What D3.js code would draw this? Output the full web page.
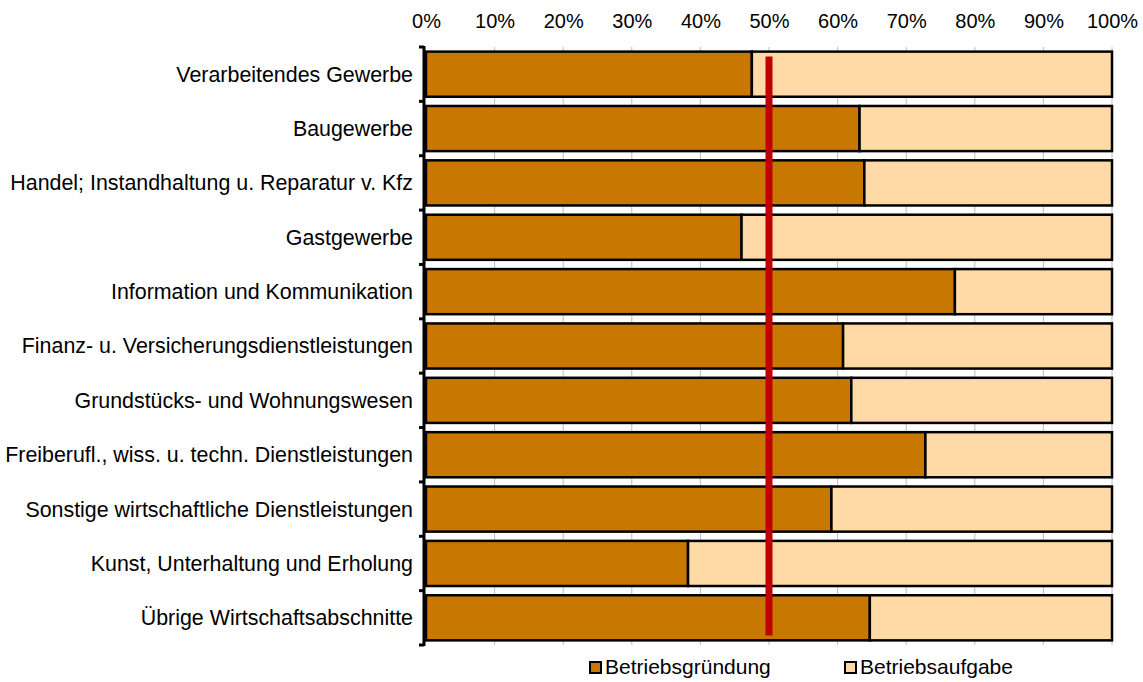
<!DOCTYPE html>
<html>
<head>
<meta charset="utf-8">
<script src="https://cdn.jsdelivr.net/npm/d3@7"></script>
<style>
  body { margin: 0; background: #fff; }
  svg text { font-family: "Liberation Sans", Arial, sans-serif; fill: #000; }
</style>
</head>
<body>
<svg id="chart" width="1143" height="682"></svg>
<script>
// categories, top to bottom
const categories = [
  "Verarbeitendes Gewerbe",
  "Baugewerbe",
  "Handel; Instandhaltung u. Reparatur v. Kfz",
  "Gastgewerbe",
  "Information und Kommunikation",
  "Finanz- u. Versicherungsdienstleistungen",
  "Grundstücks- und Wohnungswesen",
  "Freiberufl., wiss. u. techn. Dienstleistungen",
  "Sonstige wirtschaftliche Dienstleistungen",
  "Kunst, Unterhaltung und Erholung",
  "Übrige Wirtschaftsabschnitte"
];
// share of Betriebsgründung in %
const gruendung = [47.5, 63.2, 63.9, 46.0, 77.1, 60.8, 62.0, 72.8, 59.1, 38.2, 64.7];
// share of Betriebsaufgabe in %
const aufgabe = gruendung.map(v => 100 - v);
const seriesNames = ["Betriebsgründung", "Betriebsaufgabe"];
const seriesColors = ["#C87800", "#FFDAA6"];
const xTicks = [0, 10, 20, 30, 40, 50, 60, 70, 80, 90, 100];
const refLine = 50;

const margin = {top: 47, right: 31, bottom: 37, left: 426};
const width = 1143 - margin.left - margin.right,
      height = 682 - margin.top - margin.bottom;

const svg = d3.select("#chart");
const g = svg.append("g")
    .attr("transform", "translate(" + margin.left + "," + margin.top + ")");

const x = d3.scaleLinear().domain([0, 100]).range([0, width]);
const y = d3.scaleBand().domain(categories).range([0, height]).paddingInner(0.17).paddingOuter(0.085);

// grid lines
g.selectAll(".grid")
  .data(xTicks.slice(1))
  .enter().append("line")
    .attr("x1", d => x(d)).attr("x2", d => x(d))
    .attr("y1", 0).attr("y2", height)
    .attr("stroke", "#bdbdbd").attr("stroke-width", 1);

// stacked data
const rows = categories.map((c, i) => ({cat: c, vals: [gruendung[i], aufgabe[i]]}));
const stack = d3.stack().keys([0, 1]).value((d, k) => d.vals[k]);
const layers = stack(rows);

g.selectAll(".layer")
  .data(layers)
  .enter().append("g")
    .attr("fill", (d, i) => seriesColors[i])
  .selectAll("rect")
  .data(d => d)
  .enter().append("rect")
    .attr("x", d => x(d[0]))
    .attr("width", d => x(d[1]) - x(d[0]))
    .attr("y", d => y(d.data.cat))
    .attr("height", y.bandwidth())
    .attr("stroke", "#000")
    .attr("stroke-width", 2.5);

// top axis labels
const xAxis = g.append("g")
    .call(d3.axisTop(x).tickValues(xTicks).tickFormat(d => d + "%").tickSize(0).tickPadding(19));
xAxis.select(".domain").remove();
xAxis.selectAll("text").attr("font-size", 20).attr("font-family", "Liberation Sans, Arial, sans-serif");

// left axis with ticks at category boundaries
const bounds = d3.range(categories.length + 1).map(i => i * height / categories.length);
g.append("line")
    .attr("x1", -2).attr("x2", -2)
    .attr("y1", -1).attr("y2", height + 1)
    .attr("stroke", "#000").attr("stroke-width", 3);
g.selectAll(".ytick")
  .data(bounds)
  .enter().append("line")
    .attr("x1", -7).attr("x2", -2)
    .attr("y1", d => d).attr("y2", d => d)
    .attr("stroke", "#000").attr("stroke-width", 3);

g.selectAll(".ylabel")
  .data(categories)
  .enter().append("text")
    .attr("x", -13)
    .attr("y", d => y(d) + y.bandwidth() / 2)
    .attr("dy", "0.35em")
    .attr("text-anchor", "end")
    .attr("font-size", 21.4)
    .text(d => d);

// 50% reference line
g.append("line")
    .attr("x1", x(refLine)).attr("x2", x(refLine))
    .attr("y1", y(categories[0]) + 5)
    .attr("y2", y(categories[categories.length - 1]) + y.bandwidth() - 5)
    .attr("stroke", "#C00000").attr("stroke-width", 7);

// legend
const legendX = [590, 845];
const legend = svg.append("g").attr("transform", "translate(0,662)");
seriesNames.forEach((name, i) => {
  legend.append("rect")
      .attr("x", legendX[i]).attr("y", 0)
      .attr("width", 11).attr("height", 11)
      .attr("fill", seriesColors[i])
      .attr("stroke", "#000").attr("stroke-width", 2);
  legend.append("text")
      .attr("x", legendX[i] + 15).attr("y", 5)
      .attr("dy", "0.35em")
      .attr("font-size", 21)
      .text(name);
});
</script>
</body>
</html>
